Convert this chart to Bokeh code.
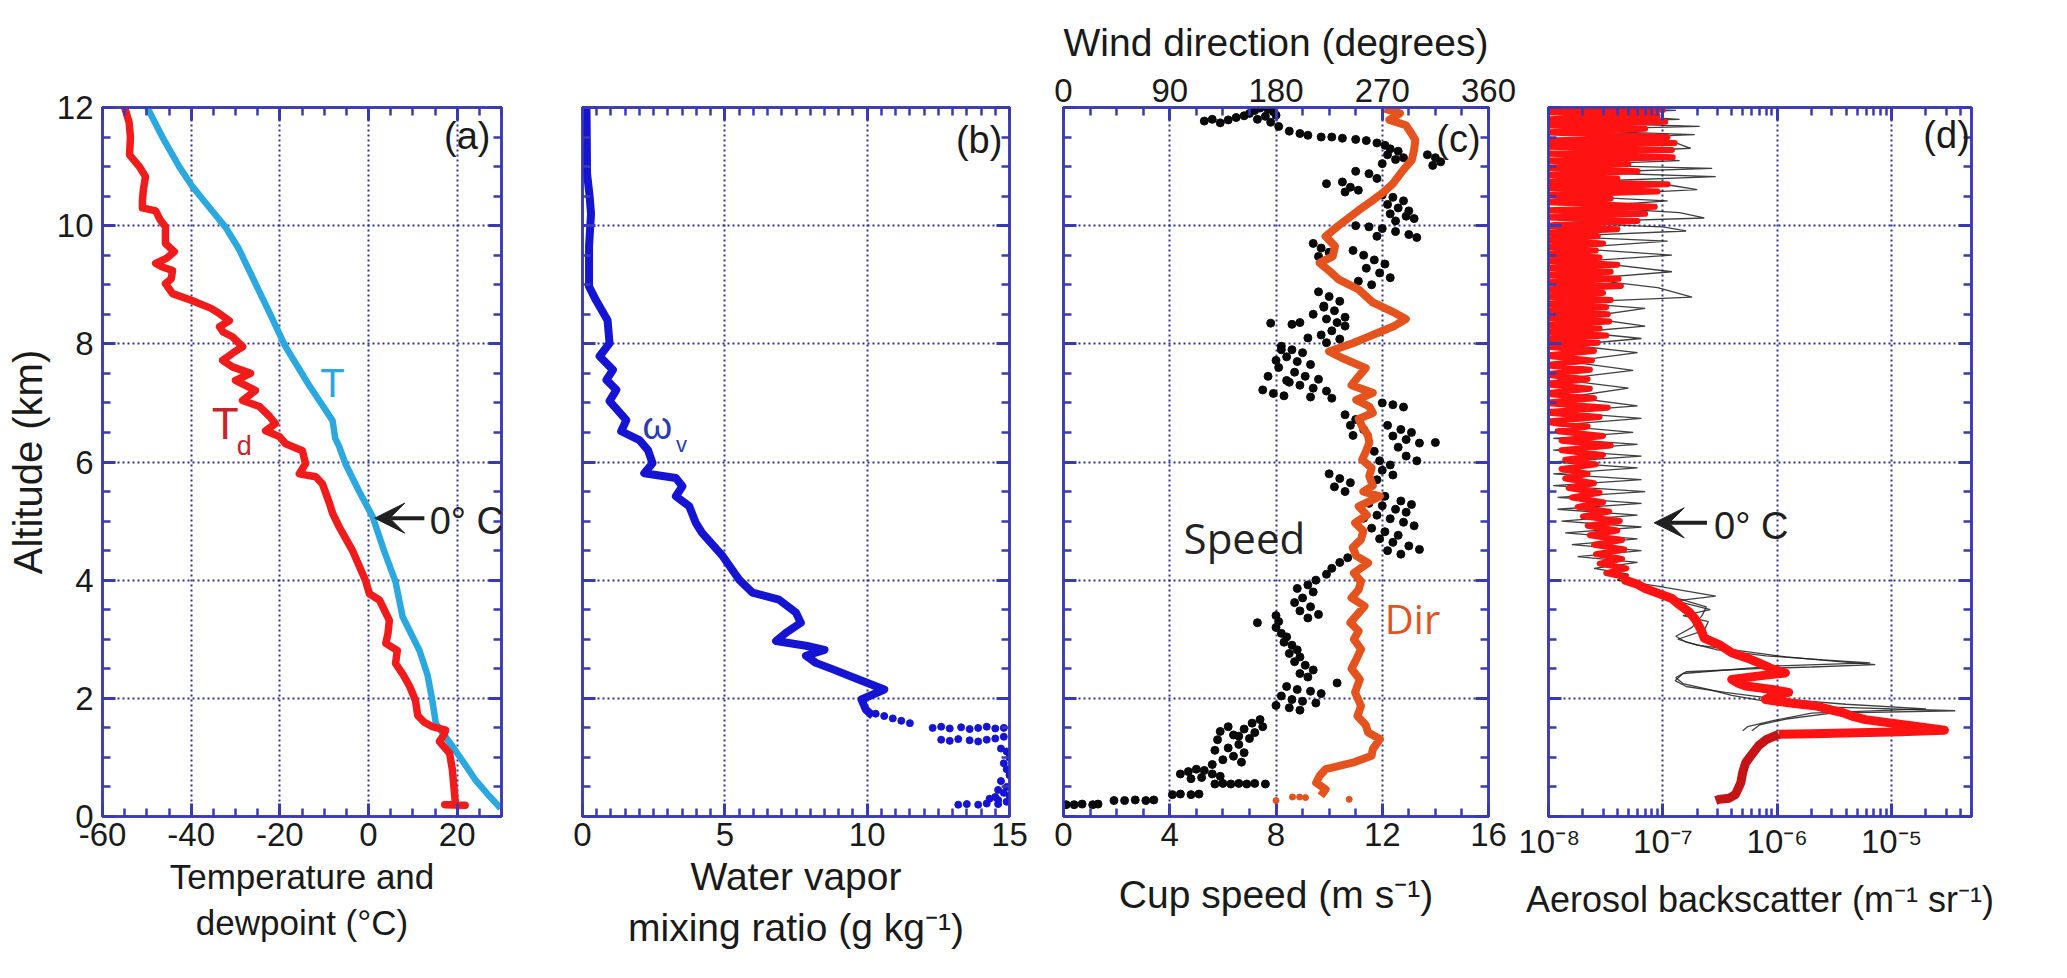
from bokeh.plotting import figure
from bokeh.layouts import row
from bokeh.models import (Range1d, LinearAxis, LogAxis, FixedTicker, CustomJSTickFormatter,
                          Label, Arrow, VeeHead)
from bokeh.embed import file_html
from bokeh.resources import INLINE

# ---------------- data ----------------
# (a) temperature (T) and dewpoint (Td), altitude in km
t_alt = [12.0, 11.5, 11.0, 10.66, 10.3, 9.98, 9.6, 9.24, 8.6, 7.95, 7.3, 6.7, 6.4, 6.26, 5.97,
         5.5, 5.08, 4.5, 3.97, 3.38, 2.81, 2.4, 1.96, 1.57, 1.18, 0.9, 0.61, 0.35, 0.14]
t_val = [-49.9, -46.5, -42.7, -39.7, -35.8, -32.3, -29.2, -26.9, -22.8, -18.7, -13.4, -8.1, -7.5, -6.6, -5.2,
         -2.1, 0.9, 3.5, 6.1, 7.7, 11.5, 13.3, 14.4, 15.2, 19.0, 21.6, 24.2, 27.2, 29.8]

td_alt = [12.0, 11.75, 11.5, 11.2, 11.0, 10.83, 10.6, 10.42, 10.3, 10.25, 10.1, 9.98, 9.7, 9.56, 9.45,
          9.36, 9.3, 9.24, 9.1, 9.02, 8.85, 8.73, 8.6, 8.51, 8.39, 8.29, 8.2, 8.12, 7.95, 7.85,
          7.72, 7.61, 7.5, 7.38, 7.21, 7.04, 6.94, 6.77, 6.65, 6.53, 6.43, 6.31, 6.19, 5.97, 5.8,
          5.75, 5.63, 5.3, 5.13, 4.9, 4.5, 4.0, 3.77, 3.66, 3.32, 3.1, 2.93, 2.81, 2.59, 2.4,
          2.2, 1.96, 1.71, 1.6, 1.52, 1.46, 1.38, 1.27, 1.07, 0.8, 0.39, 0.22, 0.2, 0.19, 0.18]
td_val = [-55.0, -54.0, -53.7, -53.9, -51.7, -50.3, -50.8, -51.0, -51.0, -48.0, -47.0, -45.8, -45.8, -43.8, -45.5,
          -48.0, -46.5, -44.2, -44.5, -45.8, -44.2, -39.7, -35.5, -33.6, -31.4, -33.6, -32.8, -30.7, -28.4, -30.5,
          -32.9, -30.7, -26.6, -30.0, -25.5, -28.4, -24.6, -22.3, -21.0, -23.2, -20.1, -18.7, -14.9, -14.2, -15.6,
          -11.9, -10.4, -8.8, -8.1, -6.6, -3.6, -0.7, 0.2, 2.5, 4.7, 4.4, 3.9, 6.5, 6.1, 7.8,
          9.3, 10.6, 11.1, 12.5, 14.4, 17.4, 17.0, 16.0, 18.3, 18.9, 19.4, 19.6, 17.2, 21.8, 19.6]

# (b) water vapour mixing ratio (g/kg)
wv_alt = [12.0, 11.5, 10.88, 10.5, 10.2, 9.65, 8.97, 8.74, 8.4, 8.01, 7.79, 7.56, 7.39, 7.22, 7.03,
          6.71, 6.52, 6.37, 6.2, 5.98, 5.81, 5.73, 5.59, 5.42, 5.25, 4.97, 4.8, 4.41, 4.01, 3.79,
          3.67, 3.45, 3.28, 3.11, 2.97, 2.89, 2.82, 2.72, 2.6, 2.49, 2.32, 2.15, 1.98, 1.81, 1.7]
wv_val = [0.14, 0.15, 0.16, 0.25, 0.3, 0.23, 0.23, 0.47, 0.88, 0.95, 0.6, 1.07, 0.84, 1.19, 0.95,
          1.54, 1.36, 2.0, 2.3, 2.46, 2.17, 3.28, 3.51, 3.28, 3.75, 3.98, 4.2, 4.92, 5.5, 5.97,
          6.9, 7.5, 7.67, 7.15, 6.8, 7.85, 8.5, 7.85, 8.2, 8.8, 9.7, 10.6, 9.8, 9.95, 10.2]
wv_dot_alt = [1.74, 1.70, 1.66, 1.62, 1.58, 1.50, 1.52, 1.49, 1.51, 1.48, 1.50, 1.52, 1.49, 1.50,
              1.30, 1.28, 1.31, 1.29, 1.27, 1.30, 1.32, 1.35, 1.15, 1.10, 1.00, 0.90, 0.80, 0.70,
              0.60, 0.50, 0.45, 0.40, 0.35, 0.33, 0.30, 0.28, 0.25, 0.20, 0.21, 0.20, 0.22, 0.21]
wv_dot_val = [10.3, 10.6, 10.9, 11.2, 11.5, 12.3, 12.6, 12.9, 13.3, 13.6, 13.9, 14.2, 14.5, 14.8,
              12.6, 12.9, 13.2, 13.6, 13.9, 14.2, 14.5, 14.8, 14.7, 14.9, 15.0, 14.8, 14.9, 15.0,
              14.7, 14.9, 14.6, 14.8, 15.0, 14.5, 14.3, 14.6, 14.9, 13.2, 13.5, 13.9, 14.2, 14.6]

# (c) cup speed (m/s) points: (speed, altitude)
speed_pts = [
    (5.3, 11.77), (5.6, 11.8), (5.9, 11.74), (6.2, 11.79), (6.5, 11.83), (6.8, 11.86), (7.0, 11.9),
    (7.2, 11.95), (7.4, 11.99), (7.7, 11.97), (7.9, 11.93), (8.0, 11.87), (7.6, 11.85), (7.3, 11.8),
    (7.8, 11.75), (8.1, 11.68), (8.5, 11.6), (8.9, 11.56), (9.2, 11.53), (9.7, 11.5), (10.1, 11.5),
    (10.5, 11.48), (11.0, 11.46), (11.4, 11.44), (11.8, 11.4), (12.1, 11.36), (12.3, 11.3), (12.6, 11.26),
    (12.2, 11.2), (12.5, 11.12), (12.0, 11.05), (12.8, 11.15), (13.7, 11.2), (14.0, 11.15), (14.2, 11.08),
    (13.9, 11.02), (11.0, 10.92), (11.5, 10.88), (11.8, 10.8), (10.5, 10.74), (9.9, 10.71), (10.8, 10.65),
    (11.1, 10.6), (10.6, 10.57), (12.0, 10.52), (12.4, 10.48), (12.8, 10.42), (12.2, 10.36), (12.6, 10.3),
    (13.0, 10.25), (12.3, 10.2), (12.9, 10.16), (13.2, 10.12), (12.5, 10.08), (11.0, 10.0), (11.5, 9.98),
    (12.0, 9.95), (12.5, 9.9), (13.0, 9.85), (13.3, 9.8), (11.8, 9.82), (9.4, 9.7), (9.7, 9.62),
    (10.0, 9.55), (9.6, 9.48), (10.9, 9.58), (11.3, 9.5), (11.7, 9.42), (12.1, 9.35), (11.4, 9.28),
    (11.9, 9.2), (12.3, 9.12), (11.1, 9.06), (11.6, 9.0), (9.6, 8.88), (10.0, 8.8), (10.4, 8.72),
    (9.8, 8.64), (10.2, 8.56), (9.4, 8.5), (9.9, 8.42), (10.3, 8.36), (7.8, 8.35), (8.6, 8.33),
    (8.9, 8.36), (10.6, 8.3), (10.1, 8.22), (9.7, 8.15), (10.4, 8.08), (9.9, 8.02), (8.2, 7.96),
    (8.6, 7.9), (9.0, 7.85), (8.4, 7.78), (8.8, 7.7), (9.3, 7.65), (8.1, 7.6), (8.7, 7.52),
    (9.1, 7.45), (9.6, 7.4), (8.5, 7.35), (8.9, 7.3), (9.4, 7.25), (9.9, 7.2), (7.5, 7.22),
    (7.9, 7.16), (8.3, 7.12), (9.3, 7.1), (10.1, 7.08), (10.6, 6.8), (11.0, 6.72), (10.8, 6.62),
    (11.3, 6.55), (10.9, 6.45), (12.0, 7.0), (12.4, 6.97), (12.8, 6.93), (12.2, 6.62), (12.7, 6.55),
    (13.1, 6.5), (12.4, 6.44), (12.9, 6.38), (13.4, 6.32), (12.6, 6.25), (14.0, 6.33), (10.0, 5.8),
    (10.4, 5.72), (10.8, 5.65), (10.2, 5.58), (10.6, 5.5), (11.9, 6.02), (12.3, 5.95), (12.0, 5.86),
    (12.4, 5.78), (11.8, 5.7), (11.5, 5.3), (12.0, 5.26), (12.5, 5.2), (12.9, 5.15), (11.8, 5.1),
    (12.3, 5.04), (12.8, 4.98), (13.2, 4.92), (11.6, 4.88), (12.1, 4.82), (12.6, 4.76), (11.9, 4.7),
    (12.4, 4.64), (13.0, 4.58), (13.4, 4.52), (12.2, 4.5), (12.7, 4.44), (10.7, 4.38), (10.4, 4.3),
    (10.1, 4.2), (9.9, 4.1), (9.5, 4.0), (9.2, 3.92), (8.8, 3.86), (9.4, 3.8), (9.0, 3.7),
    (8.7, 3.62), (9.3, 3.55), (8.9, 3.48), (9.6, 3.42), (9.2, 3.36), (7.3, 3.28), (8.0, 3.4),
    (8.1, 3.3), (8.0, 3.2), (8.2, 3.1), (8.4, 3.04), (8.3, 2.95), (8.6, 2.9), (8.8, 2.82),
    (8.5, 2.76), (8.9, 2.7), (8.7, 2.62), (9.1, 2.56), (9.4, 2.48), (8.9, 2.42), (9.2, 2.36),
    (10.3, 2.26), (8.4, 2.2), (8.8, 2.15), (9.3, 2.12), (9.7, 2.08), (8.2, 2.04), (8.6, 1.98),
    (9.0, 1.95), (9.5, 1.92), (8.0, 1.88), (8.5, 1.84), (8.9, 1.8), (7.4, 1.64), (7.1, 1.58),
    (7.5, 1.52), (6.8, 1.48), (7.2, 1.42), (6.6, 1.36), (7.0, 1.32), (6.2, 1.52), (5.9, 1.44),
    (6.4, 1.38), (5.8, 1.3), (6.6, 1.22), (6.2, 1.16), (5.7, 1.12), (6.8, 1.08), (6.4, 1.02),
    (6.0, 0.96), (6.7, 0.92), (5.6, 0.88), (4.4, 0.72), (4.7, 0.76), (5.0, 0.8), (5.3, 0.78),
    (5.6, 0.72), (5.9, 0.68), (5.2, 0.66), (4.8, 0.64), (5.7, 0.55), (6.0, 0.56), (6.3, 0.55),
    (6.6, 0.56), (6.9, 0.55), (7.2, 0.56), (7.6, 0.55), (4.1, 0.37), (4.4, 0.38), (4.8, 0.37),
    (5.1, 0.38), (1.9, 0.27), (2.3, 0.27), (2.7, 0.28), (3.1, 0.27), (3.4, 0.28), (0.1, 0.2),
    (0.4, 0.2), (0.7, 0.21), (1.1, 0.2), (1.3, 0.21),
    (8.2, 7.9), (8.0, 7.72), (7.7, 7.45), (8.4, 7.38), (9.8, 8.62), (10.6, 8.45), (9.2, 8.1),
    (11.7, 6.18), (12.9, 6.1), (13.3, 6.02), (12.1, 5.42), (12.7, 5.34), (13.1, 5.28), (11.3, 5.05)]
speed_val = [s for s, a in speed_pts]
speed_alt = [a for s, a in speed_pts]

# (c) wind direction (degrees)
dir_alt = [11.98, 11.9, 11.79, 11.7, 11.55, 11.45, 11.28, 11.11, 10.95, 10.71, 10.55, 10.43, 10.26, 10.0,
           9.82, 9.65, 9.48, 9.37, 9.22, 9.09, 8.92, 8.7, 8.55, 8.42, 8.3, 8.2, 8.1, 8.01, 7.87,
           7.76, 7.59, 7.45, 7.3, 7.17, 7.05, 6.94, 6.83, 6.73, 6.6, 6.45, 6.32, 6.17, 6.04, 5.9,
           5.76, 5.6, 5.5, 5.42, 5.25, 5.1, 4.97, 4.83, 4.69, 4.55, 4.41, 4.29, 4.12, 3.98,
           3.84, 3.7, 3.56, 3.42, 3.28, 3.14, 3.0, 2.83, 2.66, 2.5, 2.32, 2.1, 1.87, 1.7, 1.55,
           1.42, 1.31, 1.14, 1.03, 0.91, 0.8, 0.69, 0.57, 0.46, 0.35]
dir_val = [272, 285, 276, 290, 295, 298, 297, 295, 288, 279, 270, 262, 250, 233,
           222, 230, 228, 217, 226, 233, 250, 262, 278, 290, 280, 268, 256, 245, 225,
           236, 256, 250, 244, 262, 248, 259, 262, 250, 253, 258, 259, 256, 253, 261,
           259, 262, 254, 268, 250, 257, 247, 254, 252, 245, 248, 258, 246, 252,
           250, 244, 255, 249, 243, 250, 246, 252, 248, 244, 251, 247, 252, 249, 256,
           258, 268, 262, 261, 245, 222, 217, 214, 222, 218]
dir_dot_alt = [0.27, 0.33, 0.33, 0.32, 0.29]
dir_dot_val = [180, 194, 200, 205, 242]

# (d) aerosol backscatter (1/(m sr)), (altitude, value)
bs_red_up = [
    (12.00, 9e-9), (11.96, 1.0e-7), (11.92, 9e-9), (11.86, 9e-8), (11.80, 9e-9), (11.76, 1.05e-7),
    (11.70, 9e-9), (11.64, 7e-8), (11.58, 9e-9), (11.50, 1.1e-7), (11.44, 9e-9), (11.40, 1.27e-7),
    (11.34, 9e-9), (11.28, 1.2e-7), (11.22, 9e-9), (11.16, 1.22e-7), (11.10, 9e-9), (11.04, 5e-8),
    (10.98, 9e-9), (10.92, 6e-8), (10.86, 9e-9), (10.80, 4e-8), (10.74, 9e-9), (10.70, 1.1e-7),
    (10.64, 9e-9), (10.58, 9e-8), (10.52, 9e-9), (10.46, 3.5e-8), (10.40, 9e-9), (10.32, 8.5e-8),
    (10.26, 9e-9), (10.20, 7e-8), (10.14, 9e-9), (10.08, 6e-8), (10.00, 9e-9), (9.94, 4e-8),
    (9.88, 9e-9), (9.82, 2.7e-8), (9.76, 9e-9), (9.70, 3e-8), (9.64, 9e-9), (9.58, 2.6e-8),
    (9.52, 9e-9), (9.46, 2.8e-8), (9.40, 9e-9), (9.34, 4e-8), (9.28, 9e-9), (9.22, 3.5e-8),
    (9.16, 9e-9), (9.10, 4.1e-8), (9.04, 9e-9), (8.98, 4.3e-8), (8.92, 9e-9), (8.86, 3e-8),
    (8.80, 9e-9), (8.74, 3.5e-8), (8.68, 9e-9), (8.62, 3.2e-8), (8.56, 9e-9), (8.50, 3.3e-8),
    (8.44, 9e-9), (8.38, 3.4e-8), (8.32, 9e-9), (8.26, 2.8e-8), (8.20, 9e-9), (8.14, 3.2e-8),
    (8.08, 9e-9), (8.02, 2.7e-8), (7.96, 9e-9), (7.88, 2.5e-8), (7.80, 9e-9), (7.72, 2.4e-8),
    (7.64, 9e-9), (7.56, 2.3e-8), (7.48, 9e-9), (7.40, 2.2e-8), (7.32, 9e-9), (7.24, 2.3e-8),
    (7.16, 9e-9), (7.08, 2.5e-8), (7.00, 9e-9), (6.92, 3.3e-8), (6.84, 9e-9), (6.76, 2.8e-8),
    (6.68, 9e-9), (6.60, 2.2e-8), (6.52, 1.2e-8), (6.44, 3e-8), (6.36, 1.3e-8), (6.28, 3.5e-8),
    (6.20, 1.3e-8), (6.12, 3e-8), (6.04, 1.4e-8), (5.96, 2.6e-8), (5.88, 1.3e-8), (5.80, 2.2e-8),
    (5.72, 1.4e-8), (5.64, 2.5e-8), (5.56, 1.5e-8), (5.48, 2.8e-8), (5.40, 1.6e-8), (5.32, 3e-8),
    (5.24, 1.8e-8), (5.16, 3.4e-8), (5.08, 2e-8), (5.00, 4.2e-8), (4.92, 2.2e-8), (4.84, 4e-8),
    (4.76, 2.3e-8), (4.68, 4.4e-8), (4.60, 2.5e-8), (4.52, 4.6e-8), (4.44, 2.6e-8), (4.36, 4.4e-8),
    (4.28, 2.8e-8), (4.20, 4.8e-8), (4.12, 3.2e-8), (4.04, 5e-8)]
bs_red_low = [
    (4.04, 5e-8), (4.0, 4.7e-8), (3.93, 6e-8), (3.86, 7e-8), (3.78, 9e-8), (3.69, 1.2e-7),
    (3.58, 1.4e-7), (3.46, 1.7e-7), (3.35, 1.9e-7), (3.24, 2.05e-7), (3.12, 2.2e-7), (3.02, 2.3e-7),
    (2.91, 3.1e-7), (2.77, 4e-7), (2.68, 5.5e-7), (2.60, 6.9e-7), (2.50, 9e-7), (2.43, 1.18e-6),
    (2.38, 7e-7), (2.32, 4e-7), (2.26, 4.5e-7), (2.21, 5.3e-7), (2.15, 9e-7), (2.10, 1.26e-6),
    (2.04, 9e-7), (1.98, 7.9e-7), (1.92, 1.3e-6), (1.87, 2.2e-6), (1.80, 3e-6), (1.76, 3.7e-6),
    (1.70, 4.5e-6), (1.64, 5.9e-6), (1.58, 1e-5), (1.53, 1.6e-5), (1.46, 2.9e-5), (1.43, 1e-5),
    (1.40, 2e-6), (1.39, 1.03e-6)]
bs_tail = [
    (1.39, 1.03e-6), (1.30, 8e-7), (1.20, 6.9e-7), (1.05, 6e-7), (0.91, 5.3e-7), (0.75, 5e-7),
    (0.57, 4.8e-7), (0.45, 4.5e-7), (0.37, 4.3e-7), (0.31, 3.8e-7), (0.29, 3.1e-7), (0.27, 2.9e-7)]
bs_blk_up = [
    (12.0, 1.5e-8), (11.95, 1.3e-7), (11.9, 2e-8), (11.8, 1.4e-7), (11.75, 1.2e-8), (11.68, 2.1e-7),
    (11.62, 1.1e-8), (11.54, 1.9e-7), (11.48, 3e-8), (11.4, 1.3e-7), (11.31, 1.75e-7), (11.22, 2e-8),
    (11.1, 1.4e-7), (11.03, 1.5e-8), (10.97, 2.7e-7), (10.9, 2e-8), (10.83, 2.9e-7), (10.76, 3e-8),
    (10.68, 1.2e-7), (10.61, 2e-7), (10.5, 1.5e-8), (10.42, 1.1e-7), (10.32, 2e-8), (10.22, 1.4e-7),
    (10.13, 2.3e-7), (10.05, 1.1e-8), (9.98, 1e-7), (9.91, 1.6e-7), (9.82, 1.2e-8), (9.74, 1.1e-7),
    (9.62, 1.5e-8), (9.5, 1.2e-7), (9.4, 2e-8), (9.22, 1.2e-7), (9.1, 2e-8), (8.95, 9e-8),
    (8.79, 1.8e-7), (8.7, 1.5e-8), (8.6, 7e-8), (8.45, 2e-8), (8.3, 7e-8), (8.2, 1.8e-8),
    (8.09, 6.5e-8), (7.98, 1.5e-8), (7.85, 6e-8), (7.7, 1.5e-8), (7.55, 5.5e-8), (7.4, 1.2e-8),
    (7.25, 5e-8), (7.1, 1.5e-8), (6.95, 6e-8), (6.85, 1.2e-8), (6.74, 6.5e-8), (6.62, 1.1e-8),
    (6.5, 5.5e-8), (6.4, 1.1e-8), (6.3, 6e-8), (6.2, 1.1e-8), (6.1, 6.5e-8), (6.0, 1.1e-8),
    (5.9, 6e-8), (5.8, 1.1e-8), (5.7, 6.5e-8), (5.6, 1.1e-8), (5.5, 7e-8), (5.4, 1.2e-8),
    (5.3, 6.5e-8), (5.2, 1.2e-8), (5.1, 6e-8), (5.0, 1.3e-8), (4.9, 6.5e-8), (4.8, 1.4e-8),
    (4.7, 6e-8), (4.6, 1.6e-8), (4.5, 6.5e-8), (4.4, 1.8e-8), (4.3, 6e-8), (4.2, 2.5e-8),
    (4.1, 5e-8), (4.0, 4e-8)]
bs_blk_1 = [
    (4.0, 4e-8), (3.9, 9e-8), (3.73, 2.9e-7), (3.65, 1.3e-7), (3.5, 2.6e-7), (3.4, 1.5e-7),
    (3.3, 2.5e-7), (3.15, 2.3e-7), (3.0, 1.35e-7), (2.9, 2e-7), (2.8, 5e-7), (2.7, 1.2e-6),
    (2.62, 3.5e-6), (2.57, 7.2e-6), (2.53, 2e-6), (2.5, 6e-7), (2.45, 1.6e-7), (2.35, 1.3e-7),
    (2.25, 1.5e-7), (2.15, 2.5e-7), (2.05, 4e-7), (1.95, 8e-7), (1.85, 3e-6), (1.79, 3.6e-5),
    (1.75, 3e-6), (1.65, 1.2e-6), (1.55, 7e-7), (1.45, 6e-7)]
bs_blk_2 = [
    (3.9, 7e-8), (3.7, 1.3e-7), (3.55, 2.4e-7), (3.4, 2.2e-7), (3.2, 1.8e-7), (3.05, 1.3e-7),
    (2.95, 1.6e-7), (2.82, 3e-7), (2.72, 8e-7), (2.65, 2.5e-6), (2.6, 6.5e-6), (2.55, 1e-6),
    (2.42, 1.5e-7), (2.3, 1.28e-7), (2.2, 1.6e-7), (2.1, 3.5e-7), (2.0, 9e-7), (1.9, 4e-6),
    (1.82, 2e-5), (1.75, 2e-6), (1.62, 9e-7), (1.52, 5.5e-7), (1.45, 5e-7)]

# tick labels / positions
alt_ticks = [0, 2, 4, 6, 8, 10, 12]
alt_minor = [i * 0.5 for i in range(25)]
temp_ticks = [-60, -40, -20, 0, 20]
temp_minor = list(range(-60, 31, 5))
wv_ticks = [0, 5, 10, 15]
wv_minor = [i * 0.5 for i in range(31)]
spd_ticks = [0, 4, 8, 12, 16]
spd_minor = list(range(0, 17))
dir_ticks = [0, 90, 180, 270, 360]
dir_minor = [i * 22.5 for i in range(17)]
bs_ticks = [1e-8, 1e-7, 1e-6, 1e-5]
bs_minor = [m * 10.0 ** k for k in range(-8, -4) for m in range(1, 10)]

# ---------------- style ----------------
FONT = "Liberation Sans"
FRAME = "#3a3ab4"
GRID = "#25258c"
INK = "#1a1a1a"
C_T = "#2aa8df"
C_TD = "#f01c1c"
C_TD_LBL = "#c4262c"
C_WV = "#1414d2"
C_DIR = "#e4521e"
C_RED = "#ff1212"
C_TAIL = "#c41416"
FRAME_H = 709
BT = 107
BB = 150


def empty_fmt():
    return CustomJSTickFormatter(code="return '';")


def style_axis(ax, labels=True):
    ax.axis_line_color = FRAME
    ax.axis_line_width = 2.5
    ax.major_tick_line_color = FRAME
    ax.major_tick_line_width = 3
    ax.major_tick_in = 13
    ax.major_tick_out = 0
    ax.minor_tick_line_color = FRAME
    ax.minor_tick_line_width = 2.5
    ax.minor_tick_in = 8
    ax.minor_tick_out = 0
    ax.major_label_text_font = FONT
    ax.major_label_text_font_size = "33px"
    ax.major_label_text_color = INK
    ax.major_label_standoff = 6
    ax.axis_label_text_font = FONT
    ax.axis_label_text_font_style = "normal"
    ax.axis_label_text_color = INK
    if not labels:
        ax.formatter = empty_fmt()
        ax.major_label_standoff = 0


def base_fig(xr, fw, bl, br, xtype="linear"):
    p = figure(x_range=xr, y_range=Range1d(0, 12), x_axis_type=xtype,
               frame_width=fw, frame_height=FRAME_H,
               min_border_left=bl, min_border_right=br,
               min_border_top=BT, min_border_bottom=BB,
               output_backend="svg", toolbar_location=None)
    p.outline_line_color = FRAME
    p.outline_line_width = 2.5
    p.outline_line_alpha = 1.0
    p.background_fill_color = "white"
    p.border_fill_color = "white"
    p.grid.grid_line_color = GRID
    p.grid.grid_line_dash = "2 3"
    p.grid.grid_line_width = 2
    p.grid.grid_line_alpha = 0.95
    return p


def frame_axes(p, xt, yt, y_labels=False, top=True, log=False):
    bottom = p.below[0]
    left = p.left[0]
    bottom.ticker = xt
    p.xgrid.ticker = xt
    left.ticker = yt
    p.ygrid.ticker = yt
    style_axis(left, labels=y_labels)
    style_axis(bottom, labels=True)
    if top:
        cls = LogAxis if log else LinearAxis
        ta = cls(ticker=xt)
        style_axis(ta, labels=False)
        p.add_layout(ta, "above")
    ra = LinearAxis(ticker=yt)
    style_axis(ra, labels=False)
    p.add_layout(ra, "right")
    return bottom, left


def lbl(p, x, y, text, size, color=INK, font=FONT, align="center", **kw):
    p.add_layout(Label(x=x, y=y, text=text, text_font=font, text_font_size=size,
                       text_color=color, text_align=align, text_baseline="middle", **kw))


yt = FixedTicker(ticks=alt_ticks, minor_ticks=alt_minor)

# ---------------- (a) ----------------
pa = base_fig(Range1d(-60, 30), 399, 102, 20)
ba, la = frame_axes(pa, FixedTicker(ticks=temp_ticks, minor_ticks=temp_minor), yt, y_labels=True)
ba.formatter = CustomJSTickFormatter(code="return String(tick);")
ba.axis_label = "Temperature and\ndewpoint (\u00b0C)"
ba.axis_label_text_font_size = "35px"
ba.axis_label_standoff = 8
la.axis_label = "Altitude (km)"
la.axis_label_text_font_size = "40px"
la.axis_label_standoff = 4
la.major_label_standoff = 9
pa.line(t_val, t_alt, line_color=C_T, line_width=6.5, line_join="round")
pa.line(td_val, td_alt, line_color=C_TD, line_width=7.5, line_join="round")
lbl(pa, -8.1, 7.33, "T", "40px", C_T)
lbl(pa, -32.3, 6.65, "T", "44px", C_TD_LBL)
lbl(pa, -28.0, 6.27, "d", "27px", C_TD_LBL)
pa.add_layout(Arrow(end=VeeHead(size=30, fill_color="#202020", line_color="#202020"),
                    x_start=12.6, y_start=5.05, x_end=1.4, y_end=5.05,
                    line_width=4, line_color="#202020"))
lbl(pa, 13.8, 5.0, "0\u00b0 C", "38px", "#202020", align="left")
lbl(pa, 27.5, 11.51, "(a)", "38px", align="right")

# ---------------- (b) ----------------
pb = base_fig(Range1d(0, 15), 427, 61, 20)
bb, lb = frame_axes(pb, FixedTicker(ticks=wv_ticks, minor_ticks=wv_minor), yt)
bb.axis_label = "Water vapor\nmixing ratio (g kg\u207b\u00b9)"
bb.axis_label_text_font_size = "39px"
bb.axis_label_standoff = 6
pb.line(wv_val, wv_alt, line_color=C_WV, line_width=8, line_join="round")
pb.scatter(wv_dot_val, wv_dot_alt, size=7, color=C_WV)
lbl(pb, 2.63, 6.61, "\u03c9", "38px", "#2a3cb0")
lbl(pb, 3.48, 6.29, "v", "22px", "#2a3cb0")
lbl(pb, 14.75, 11.45, "(b)", "38px", align="right")

# ---------------- (c) ----------------
pc = base_fig(Range1d(0, 16), 425, 34, 30)
pc.extra_x_ranges = {"dir": Range1d(0, 360)}
bc, lc = frame_axes(pc, FixedTicker(ticks=spd_ticks, minor_ticks=spd_minor), yt, top=False)
bc.axis_label = "Cup speed (m s\u207b\u00b9)"
bc.axis_label_text_font_size = "39px"
bc.axis_label_standoff = 24
top_c = LinearAxis(x_range_name="dir", ticker=FixedTicker(ticks=dir_ticks, minor_ticks=dir_minor),
                   axis_label="Wind direction (degrees)")
style_axis(top_c, labels=True)
top_c.axis_label_text_font_size = "39px"
top_c.axis_label_standoff = 12
pc.add_layout(top_c, "above")
pc.scatter(speed_val, speed_alt, size=8, color="#0a0a0a")
pc.line(dir_val, dir_alt, x_range_name="dir", line_color=C_DIR, line_width=8, line_join="round")
pc.scatter(dir_dot_val, dir_dot_alt, x_range_name="dir", size=6, color=C_DIR)
lbl(pc, 6.81, 4.72, "Speed", "42px", "#222222", font="Open Sans")
lbl(pc, 13.14, 3.35, "Dir", "40px", C_DIR, font="Open Sans")
lbl(pc, 15.7, 11.47, "(c)", "38px", align="right")

# ---------------- (d) ----------------
pd_ = base_fig(Range1d(1e-8, 5e-5), 423, 30, 70, xtype="log")
bd, ld = frame_axes(pd_, FixedTicker(ticks=bs_ticks, minor_ticks=bs_minor), yt, log=True)
bd.formatter = CustomJSTickFormatter(code="""
const sup = {"-": "\u207b", "0": "\u2070", "1": "\u00b9", "2": "\u00b2", "3": "\u00b3",
             "4": "\u2074", "5": "\u2075", "6": "\u2076", "7": "\u2077", "8": "\u2078", "9": "\u2079"};
const e = String(Math.round(Math.log10(tick)));
let s = "10";
for (const c of e) { s += sup[c]; }
return s;
""")
bd.axis_label = "Aerosol backscatter (m\u207b\u00b9 sr\u207b\u00b9)"
bd.axis_label_text_font_size = "36px"
bd.axis_label_standoff = 16


def unzip(pairs):
    return [v for a, v in pairs], [a for a, v in pairs]


for series in (bs_blk_up, bs_blk_1, bs_blk_2):
    xv, yv = unzip(series)
    pd_.line(xv, yv, line_color="#1e1e1e", line_width=1.3, line_alpha=0.85)
xv, yv = unzip(bs_red_up)
pd_.line(xv, yv, line_color=C_RED, line_width=6, line_join="round")
xv, yv = unzip(bs_red_low)
pd_.line(xv, yv, line_color=C_RED, line_width=9, line_join="round")
xv, yv = unzip(bs_tail)
pd_.line(xv, yv, line_color=C_TAIL, line_width=9, line_join="round")
pd_.add_layout(Arrow(end=VeeHead(size=30, fill_color="#202020", line_color="#202020"),
                     x_start=2.43e-7, y_start=4.97, x_end=8.4e-8, y_end=4.97,
                     line_width=4, line_color="#202020"))
lbl(pd_, 2.8e-7, 4.92, "0\u00b0 C", "38px", "#202020", align="left")
lbl(pd_, 4.83e-5, 11.53, "(d)", "38px", align="right")

layout = row(pa, pb, pc, pd_, spacing=0)
open("out.html", "w").write(file_html(layout, INLINE))
